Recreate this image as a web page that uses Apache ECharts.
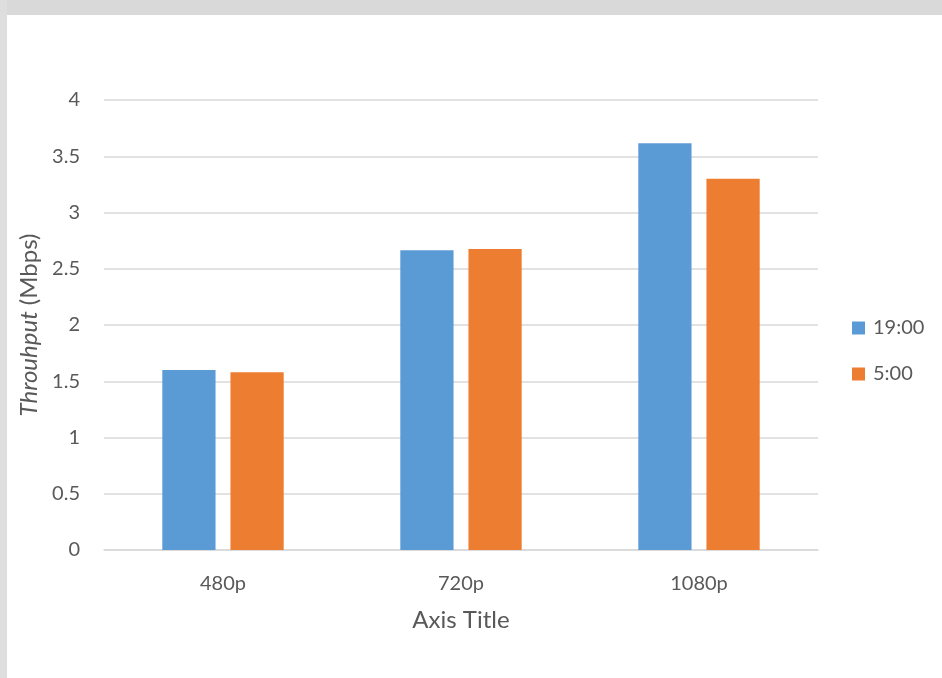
<!DOCTYPE html>
<html>
<head>
<meta charset="utf-8">
<script src="https://cdn.jsdelivr.net/npm/echarts@6/dist/echarts.min.js"></script>
<style>
html,body{margin:0;padding:0;background:#fff;}
#chart{width:942px;height:678px;}
</style>
</head>
<body>
<div id="chart"></div>
<script>
const categories = ['480p', '720p', '1080p'];
const seriesNames = ['19:00', '5:00'];
const values1900 = [1.60, 2.665, 3.615];
const values0500 = [1.58, 2.675, 3.30];
const yTicks = [0, 0.5, 1, 1.5, 2, 2.5, 3, 3.5, 4];

const FONT = 'Lato';
const TXT = '#595959';

const chart = echarts.init(document.getElementById('chart'));
chart.setOption({
  backgroundColor: '#ffffff',
  animation: false,
  textStyle: { fontFamily: FONT },
  graphic: [
    { type: 'rect', z: -10, shape: { x: 0, y: 0, width: 942, height: 15 }, style: { fill: '#d9d9d9' } },
    { type: 'rect', z: -10, shape: { x: 0, y: 0, width: 7, height: 678 }, style: { fill: '#dedede' } }
  ],
  grid: { left: 104, right: 124, top: 100, bottom: 128, containLabel: false },
  legend: {
    orient: 'vertical',
    left: 847,
    top: 313,
    padding: 5,
    itemWidth: 13,
    itemHeight: 13,
    itemGap: 26,
    icon: 'rect',
    textStyle: { color: TXT, fontSize: 20, fontFamily: FONT, lineHeight: 20, padding: [0, 0, 0, 3] },
    data: seriesNames
  },
  xAxis: {
    type: 'category',
    data: categories,
    name: 'Axis Title',
    nameLocation: 'middle',
    nameGap: 58,
    nameTextStyle: { color: TXT, fontSize: 24, fontFamily: FONT },
    axisLine: { lineStyle: { color: '#d9d9d9', width: 1.5 } },
    axisTick: { show: false },
    axisLabel: { color: TXT, fontSize: 20, fontFamily: FONT, margin: 24 }
  },
  yAxis: {
    type: 'value',
    min: 0,
    max: 4,
    interval: 0.5,
    name: '{i|Throuhput} {n|(Mbps)}',
    nameLocation: 'middle',
    nameGap: 62,
    nameRotate: 90,
    nameTextStyle: {
      color: TXT,
      fontSize: 24,
      fontFamily: FONT,
      rich: {
        i: { fontStyle: 'italic', color: TXT, fontSize: 24, fontFamily: FONT },
        n: { color: TXT, fontSize: 24, fontFamily: FONT }
      }
    },
    axisLine: { show: false },
    axisTick: { show: false },
    splitLine: { lineStyle: { color: '#d9d9d9', width: 1.5 } },
    axisLabel: {
      color: TXT, fontSize: 20, fontFamily: FONT, margin: 24,
      formatter: v => String(v)
    }
  },
  series: [
    {
      name: seriesNames[0], type: 'bar', data: values1900,
      itemStyle: { color: '#5B9BD5' },
      barGap: '28%', barCategoryGap: '49%'
    },
    {
      name: seriesNames[1], type: 'bar', data: values0500,
      itemStyle: { color: '#ED7D31' },
      barGap: '28%', barCategoryGap: '49%'
    }
  ]
});
</script>
</body>
</html>
